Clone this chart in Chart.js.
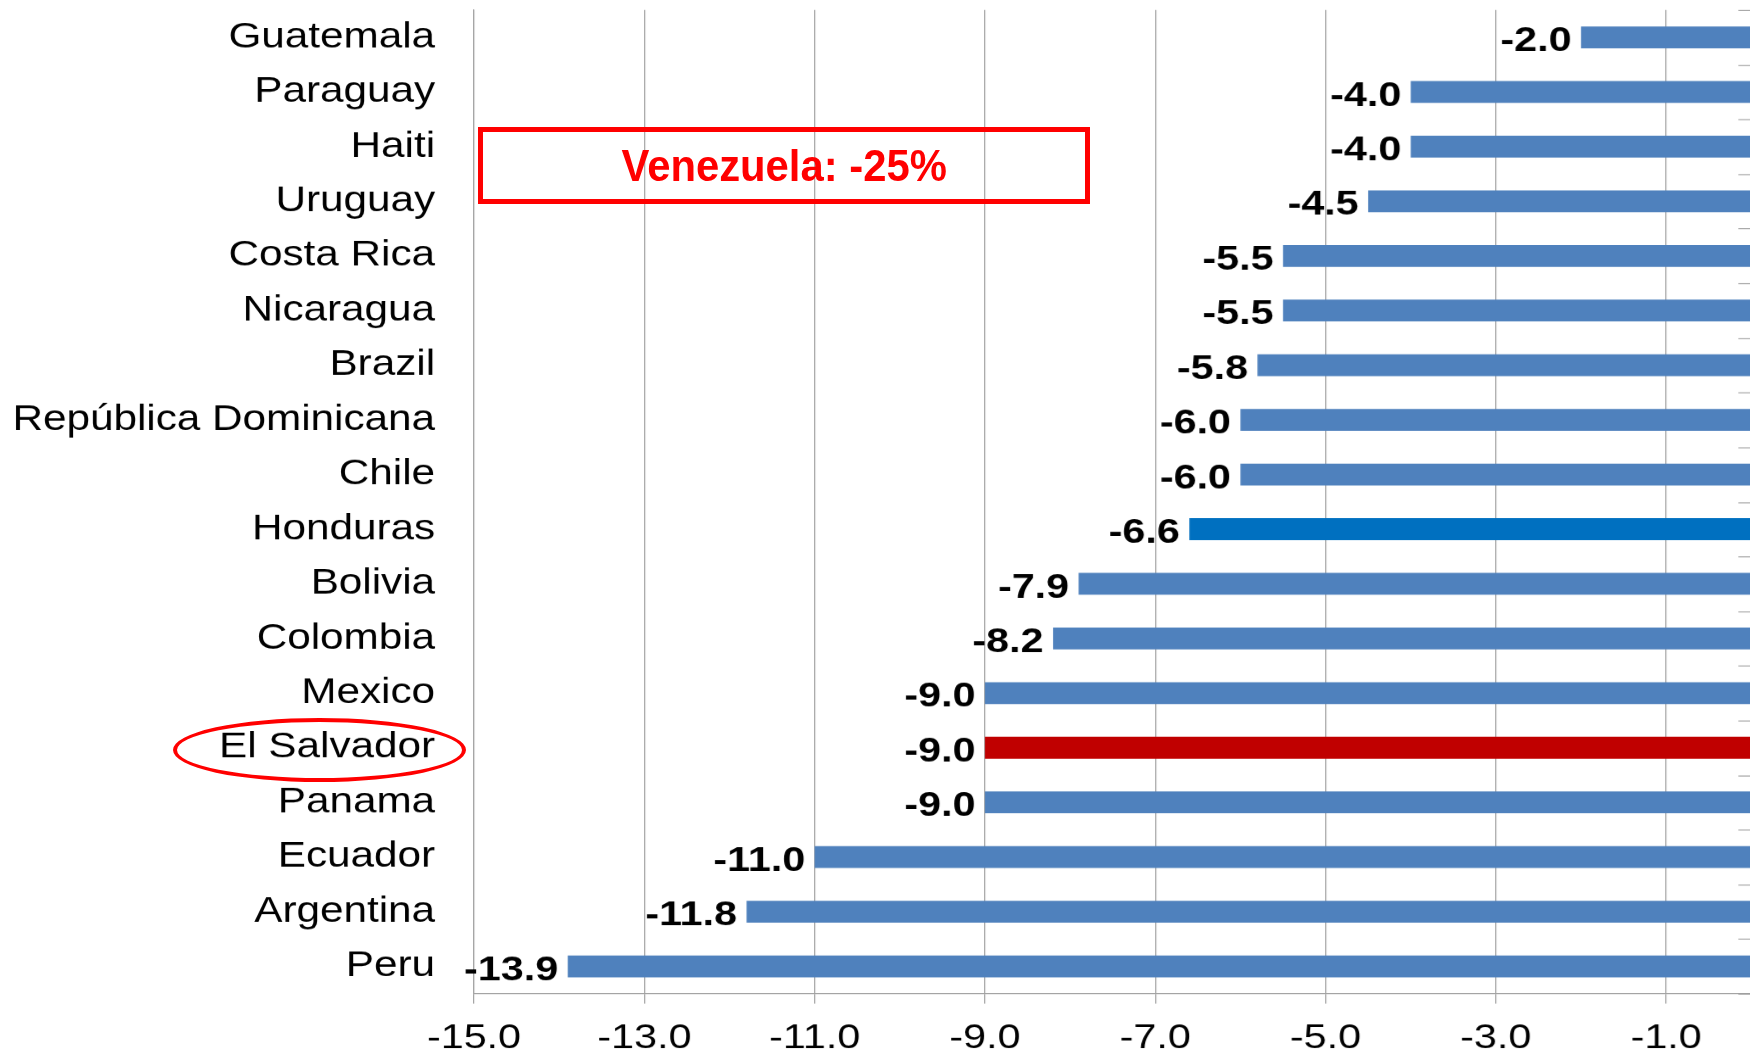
<!DOCTYPE html>
<html>
<head>
<meta charset="utf-8">
<script src="https://cdn.jsdelivr.net/npm/chart.js@4"></script>
<style>
  html, body { margin: 0; padding: 0; overflow: hidden; background: #fff; width: 1750px; height: 1050px; }
  #chart { position: absolute; left: 0; top: 0; transform: scaleX(1.18); transform-origin: 0 0; }
  .note {
    position: absolute; left: 478px; top: 127px; width: 612px; height: 77px;
    box-sizing: border-box; border: 5px solid #ff0000;
    display: flex; align-items: center; justify-content: center;
    font: bold 44px "Liberation Sans", Arial, sans-serif; color: #ff0000;
  }
  .note span { display: inline-block; transform: scaleX(0.95); }
  .ring {
    position: absolute; left: 173px; top: 718px; width: 293px; height: 64px;
    box-sizing: border-box; border: 4px solid #ff0000; border-radius: 50%;
  }
</style>
</head>
<body>
<canvas id="chart" width="1490" height="1060"></canvas>
<div class="note"><span>Venezuela: -25%</span></div>
<div class="ring"></div>
<script>
const countries = [
  "Guatemala", "Paraguay", "Haiti", "Uruguay", "Costa Rica", "Nicaragua",
  "Brazil", "República Dominicana", "Chile", "Honduras", "Bolivia", "Colombia",
  "Mexico", "El Salvador", "Panama", "Ecuador", "Argentina", "Peru",
];
const values = [
  -2.0, -4.0, -4.0, -4.5, -5.5, -5.5, -5.8, -6.0, -6.0,
  -6.6, -7.9, -8.2, -9.0, -9.0, -9.0, -11.0, -11.8, -13.9,
];
const xTickValues = [-15, -13, -11, -9, -7, -5, -3, -1];

// page is stretched sideways like the source picture
const STRETCH = 1.18;
const FONT = "'Liberation Sans', Arial, sans-serif";
const GRID = "#a0a0a0";

const barColor = (name) => {
  if (name === "El Salvador") return "#c00000";
  if (name === "Honduras") return "#0070c0";
  return "#4f81bd";
};

const valueLabels = {
  id: "valueLabels",
  afterDatasetsDraw(chart) {
    const { ctx } = chart;
    const meta = chart.getDatasetMeta(0);
    ctx.save();
    ctx.font = `bold 35px ${FONT}`;
    ctx.fillStyle = "#000";
    ctx.textAlign = "right";
    ctx.textBaseline = "middle";
    meta.data.forEach((bar, i) => {
      ctx.fillText(values[i].toFixed(1), bar.x - 8, bar.y + 4);
    });
    ctx.restore();
  },
};

// small category ticks on the zero axis (axis itself is just off the page)
const zeroAxisTicks = {
  id: "zeroAxisTicks",
  afterDraw(chart) {
    const { ctx, scales } = chart;
    const x0 = scales.x.getPixelForValue(0);
    ctx.save();
    ctx.strokeStyle = GRID;
    ctx.lineWidth = 1;
    for (let i = 0; i <= countries.length; i += 1) {
      const y = Math.round(scales.y.getPixelForValue(i - 0.5)) + 0.5;
      ctx.beginPath();
      ctx.moveTo(x0 - 11, y);
      ctx.lineTo(x0, y);
      ctx.stroke();
    }
    ctx.restore();
  },
};

new Chart(document.getElementById("chart"), {
  type: "bar",
  data: {
    labels: countries,
    datasets: [
      {
        data: values,
        backgroundColor: countries.map(barColor),
        borderWidth: 0,
        barPercentage: 0.4,
        categoryPercentage: 1,
      },
    ],
  },
  options: {
    indexAxis: "y",
    responsive: false,
    animation: false,
    devicePixelRatio: STRETCH,
    layout: { padding: { top: 10, right: 6, left: 0, bottom: 0 } },
    plugins: { legend: { display: false }, tooltip: { enabled: false } },
    scales: {
      x: {
        min: -15,
        max: 0,
        afterBuildTicks: (scale) => {
          scale.ticks = xTickValues.map((v) => ({ value: v }));
        },
        afterFit: (scale) => {
          scale.height = 67;
        },
        grid: { color: GRID, lineWidth: 1, tickLength: 10 },
        border: { display: true, color: GRID, width: 1 },
        ticks: {
          color: "#000",
          font: { family: FONT, size: 35 },
          padding: 14,
          maxRotation: 0,
          autoSkip: false,
          callback: (v) => Number(v).toFixed(1),
        },
      },
      y: {
        afterFit: (scale) => {
          scale.width = 474 / STRETCH;
          scale.paddingTop = 0;
          scale.paddingBottom = 0;
        },
        grid: { display: false, drawTicks: false },
        border: { display: true, color: GRID, width: 1 },
        ticks: {
          color: "#000",
          font: { family: FONT, size: 35.8 },
          padding: 33,
          autoSkip: false,
        },
      },
    },
  },
  plugins: [valueLabels, zeroAxisTicks],
});
</script>
</body>
</html>
